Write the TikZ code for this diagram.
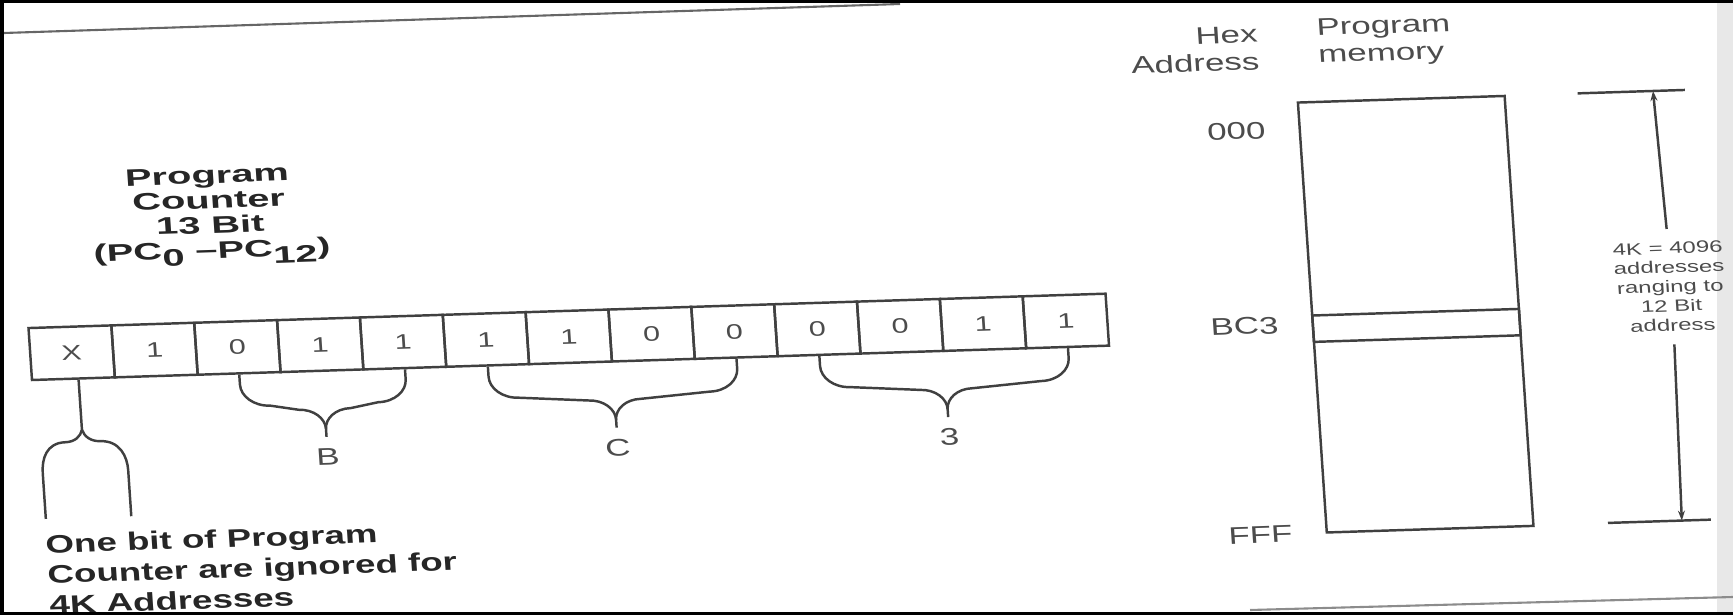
\documentclass[tikz,border=0pt]{standalone}
\usepackage{fontspec}
\setmainfont{Liberation Sans}
\usetikzlibrary{arrows.meta,calc}
\colorlet{ink}{black!75}
\colorlet{printtxt}{black!70}
\newcommand\cellw{0.572}
\newcommand\pcsub[1]{\raisebox{-0.55ex}{#1}}
\newcommand\pcbrace[4]{{%
  \coordinate (#4l) at (c#1.south);
  \coordinate (#4r) at (c#2.south);
  \coordinate (#4m) at ($(#4l)!0.5!(#4r)$);
  % left and right half of the brace
  \draw (#4l) -- ++(0,-0.1) to[out=-90,in=180] ++(0.2,-0.22)
        -- ($(#4m)+(-0.18,-0.37)$) to[out=0,in=90] ++(0.18,-0.2) -- ++(0,-0.08);
  \draw (#4r) -- ++(0,-0.1) to[out=-90,in=0] ++(-0.2,-0.22)
        -- ($(#4m)+(0.18,-0.37)$) to[out=180,in=90] ++(-0.18,-0.2);
  \node[lbl] (#4) at ($(#4m)+(0,-0.85)$) {#3};}}

\begin{document}
\begin{tikzpicture}[line width=0.7pt,>={Stealth[length=1mm,width=0.7mm]},draw=ink,
  bitcell/.style={draw=ink,minimum width=\cellw cm,minimum height=0.52cm,inner sep=0,
    font=\fontsize{6}{6}\selectfont,text=printtxt},
  lbl/.style={inner sep=0,font=\fontsize{6.85}{7.8}\selectfont,text=printtxt},
  dimtxt/.style={inner xsep=0,inner ysep=0.12cm,align=center,
    font=\fontsize{4.7}{5.5}\selectfont,text=printtxt},
  bold/.style={inner sep=0,font=\bfseries\fontsize{6.8}{7.1}\selectfont,text=black!85}]
\useasboundingbox (-0.32,-2.35) rectangle (17.01,3.80);
\fill[black!9] (16.85,-2.32) rectangle (17.01,3.77);
\begin{scope}[xscale=1.45,rotate=2.65,transform shape]
  % program counter register
  \foreach \b [count=\i from 0] in {X,1,0,1,1,1,1,0,0,0,0,1,1}
    \node[bitcell] (c\i) at ({(\i+0.5)*\cellw},0.26) {\b};
  \node[bold,align=center,xscale=1.15] (pclabel) at (1.3,1.58)
    {Program\\Counter\\13 Bit\\(PC\pcsub{0} --PC\pcsub{12})};
  \pcbrace{2}{4}{B}{brB}
  \pcbrace{5}{8}{C}{brC}
  \pcbrace{9}{12}{3}{brT}
  % ignored bit
  \coordinate (xfork) at ($(c0.south)+(0.035,-0.5)$);
  \draw ($(c0.south)+(0.035,0)$) -- (xfork) to[out=-100,in=0] ++(-0.12,-0.12)
    to[out=180,in=90] ++(-0.17,-0.3) -- ++(0,-0.46);
  \draw (xfork) to[out=-80,in=180] ++(0.12,-0.12)
    to[out=0,in=90] ++(0.18,-0.3) -- ++(0,-0.46);
  \node[bold,anchor=north west,align=left,font=\bfseries\fontsize{7.2}{8.6}\selectfont]
    (note) at (0.005,-1.54) {One bit of Program\\Counter are ignored for\\4K Addresses};
  % program memory
  \node[draw=ink,minimum width=1.427cm,minimum height=4.304cm,inner sep=0] (mem) at (9.5635,0.216) {};
  \node[draw=ink,minimum width=1.427cm,minimum height=0.264cm,inner sep=0] (slot) at (9.5635,0.104) {};
  \node[lbl,anchor=north east,align=right] (hexhd) at (8.615,3.16) {Hex\\Address};
  \node[lbl,anchor=north west,align=left] (memhd) at (9.0,3.21) {Program\\memory};
  \node[lbl,anchor=east] (a000) at (8.625,2.10) {000};
  \node[lbl,anchor=east] (abc3) at (8.625,0.15) {BC3};
  \node[lbl,anchor=east] (afff) at (8.625,-1.94) {FFF};
  % address range
  \coordinate (dimtop) at (11.30,2.37);
  \coordinate (dimbot) at (11.30,-1.93);
  \draw ($(dimtop)+(-0.52,0)$) -- ($(dimtop)+(0.22,0)$);
  \draw ($(dimbot)+(-0.51,0)$) -- ($(dimbot)+(0.2,0)$);
  \node[dimtxt] (range) at (11.33,0.41) {4K = 4096\\addresses\\ranging to\\12 Bit\\address};
  \draw[->] (range.north) -- (dimtop);
  \draw[->] (range.south) -- (dimbot);
\end{scope}
% scanned page edges
\draw[black!60,line width=0.6pt] (-0.28,3.47) -- (8.68,3.76);
\draw[black!45,line width=0.6pt] (12.18,-2.30) -- (17.01,-2.17);
\fill[black] (-0.32,3.77) rectangle (17.01,3.80);
\fill[black] (-0.32,-2.35) rectangle (-0.28,3.80);
\fill[black] (-0.32,-2.35) rectangle (17.01,-2.32);
\end{tikzpicture}
\end{document}
